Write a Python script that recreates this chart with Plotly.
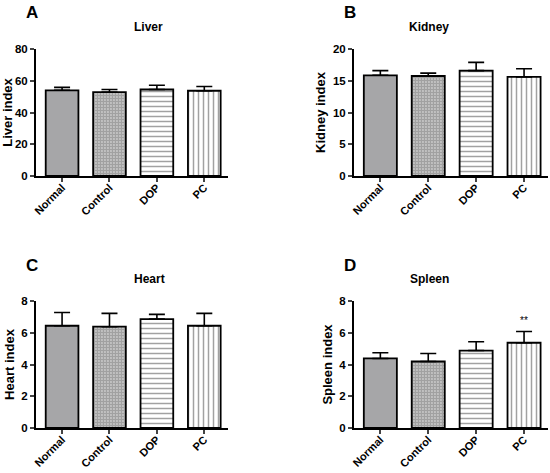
import plotly.graph_objects as go
from plotly.subplots import make_subplots

groups = ["Normal", "Control", "DOP", "PC"]

liver_mean = [54.0, 52.8, 54.5, 53.7]
liver_err = [1.8, 1.7, 2.7, 2.7]

kidney_mean = [15.86, 15.75, 16.6, 15.6]
kidney_err = [0.74, 0.45, 1.3, 1.3]

heart_mean = [6.44, 6.38, 6.86, 6.44]
heart_err = [0.84, 0.84, 0.3, 0.78]

spleen_mean = [4.38, 4.19, 4.88, 5.37]
spleen_err = [0.36, 0.5, 0.55, 0.71]
spleen_sig = ["", "", "", "**"]

panels = [
    ("A", "Liver", "Liver index", liver_mean, liver_err, [0, 80], 20, None),
    ("B", "Kidney", "Kidney index", kidney_mean, kidney_err, [0, 20], 5, None),
    ("C", "Heart", "Heart index", heart_mean, heart_err, [0, 8], 2, None),
    ("D", "Spleen", "Spleen index", spleen_mean, spleen_err, [0, 8], 2, spleen_sig),
]

fills = ["#a6a6a8", "white", "white", "white"]
shapes = ["", ".", "-", "|"]
FONT = "Liberation Sans"

fig = make_subplots(rows=2, cols=2)

xdoms = [[36 / 550, 228 / 550], [354 / 550, 548 / 550]]
ydoms = [[(473 - 176) / 473, (473 - 49) / 473], [(473 - 428) / 473, (473 - 301) / 473]]

for i, (letter, title, ytitle, mean, err, yr, dt, sig) in enumerate(panels):
    r, c = i // 2 + 1, i % 2 + 1
    fig.add_trace(go.Bar(
        x=groups, y=mean, width=0.69,
        marker=dict(
            color=fills,
            line=dict(color="black", width=1.8),
            pattern=dict(shape=shapes, fgcolor="#111111", bgcolor="white",
                         size=[4, 3, 5, 5], solidity=[0.3, 0.8, 0.3, 0.3]),
        ),
        error_y=dict(type="data", array=err, arrayminus=[0] * 4, symmetric=False,
                     color="black", thickness=1.6, width=8),
        showlegend=False,
    ), row=r, col=c)

    fig.update_xaxes(domain=xdoms[c - 1], range=[-0.55, 3.5], showline=True,
                     linecolor="black", linewidth=2, ticks="outside", ticklen=4,
                     tickwidth=1.5, tickangle=-45, automargin=False,
                     ticklabelstandoff=-5,
                     tickfont=dict(family=FONT, size=11, color="black", weight="bold"),
                     row=r, col=c)
    fig.update_yaxes(domain=ydoms[r - 1], range=yr, dtick=dt, showline=True,
                     linecolor="black", linewidth=2, ticks="outside", ticklen=4,
                     tickwidth=1.5, showgrid=False, zeroline=False, automargin=False,
                     tickfont=dict(family=FONT, size=11.5, color="black", weight="bold"),
                     title=dict(text=ytitle, standoff=4,
                                font=dict(family=FONT, size=13, color="black", weight="bold")),
                     row=r, col=c)

    xd, yd = xdoms[c - 1], ydoms[r - 1]
    fig.add_annotation(xref="paper", yref="paper", x=(xd[0] + xd[1]) / 2,
                       y=yd[1] + 22 / 473, text=title, showarrow=False,
                       yanchor="middle",
                       font=dict(family=FONT, size=12, color="black", weight="bold"))
    fig.add_annotation(xref="paper", yref="paper", x=xd[0] - 12 / 550,
                       y=yd[1] + 36 / 473, text=letter, showarrow=False,
                       xanchor="left", yanchor="middle",
                       font=dict(family=FONT, size=17, color="black", weight="bold"))

    if sig:
        xa = "x" if i == 0 else "x%d" % (i + 1)
        ya = "y" if i == 0 else "y%d" % (i + 1)
        for g, m, e, s in zip(groups, mean, err, sig):
            if s:
                fig.add_annotation(xref=xa, yref=ya, x=g, y=m + e + 0.2, text=s,
                                   showarrow=False, yanchor="bottom",
                                   font=dict(family=FONT, size=10, color="black"))

fig.update_layout(
    width=550, height=473,
    margin=dict(l=0, r=0, t=0, b=0, autoexpand=False),
    plot_bgcolor="white", paper_bgcolor="white",
    bargap=0.3,
)
fig.update_xaxes(showgrid=False)

fig.write_html("out.html", config={"displayModeBar": False},
               post_script="document.body.style.margin='0';document.body.style.overflow='hidden';")
